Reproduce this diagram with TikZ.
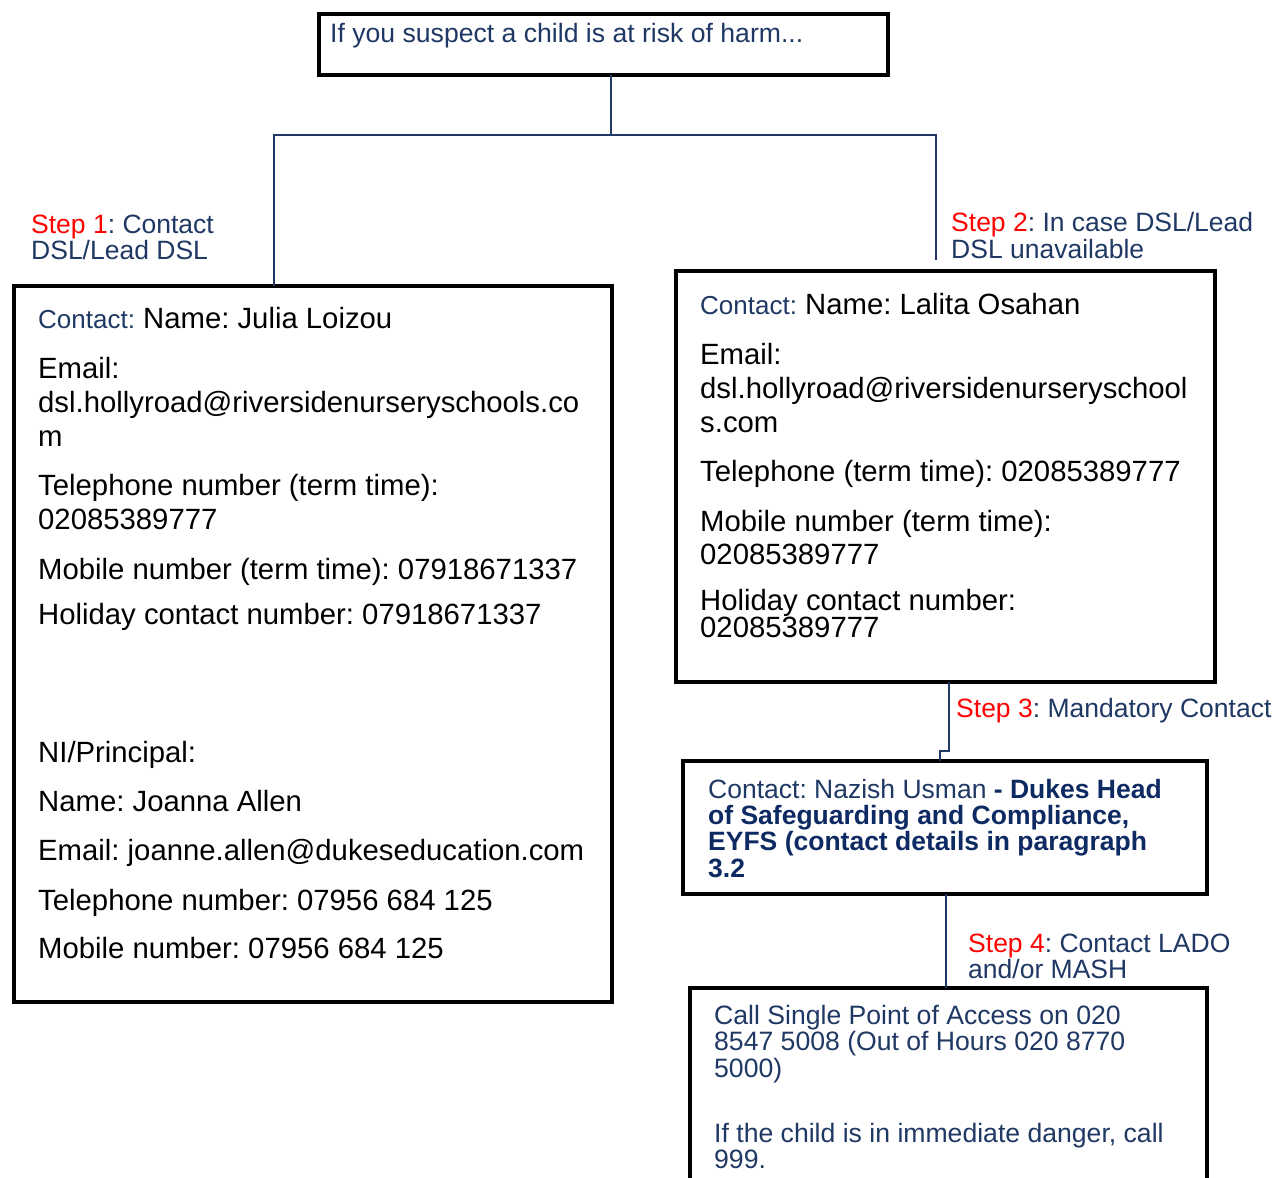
\documentclass[tikz,border=0pt]{standalone}
\usepackage{fontspec}
\setmainfont{Liberation Sans}
\frenchspacing
\definecolor{navy}{HTML}{1F3864}
\definecolor{boldnavy}{HTML}{0E2A63}
\definecolor{stepred}{HTML}{FF0000}
\newcommand{\bodyfont}{\fontsize{29.3}{34}\selectfont}
\newcommand{\labfont}{\fontsize{26.5}{26}\selectfont}
\tikzset{
  box/.style={draw=black, line width=4.5pt, fill=white, inner sep=0pt, outer sep=0pt, anchor=north west},
  conn/.style={draw=navy, line width=2.2pt},
  ln/.style={anchor=base west, inner sep=0pt, font=\bodyfont, text=black},
  lab/.style={anchor=base west, inner sep=0pt, font=\labfont, text=navy},
  navln/.style={anchor=base west, inner sep=0pt, font=\fontsize{26.6}{26.5}\selectfont, text=navy},
}
\newcommand{\steptxt}[1]{\textcolor{stepred}{#1}}
\newcommand{\ctc}{{\fontsize{26}{26}\selectfont\textcolor{navy}{Contact:}}}
\newcommand{\bnav}[1]{\textcolor{boldnavy}{\textbf{#1}}}
\begin{document}
\begin{tikzpicture}[x=1pt,y=-1pt]
\useasboundingbox (0,0) rectangle (1278,1178);
\clip (0,0) rectangle (1278,1178);
\fill[white] (0,0) rectangle (1278,1178);

% boxes
\node[box, minimum width=569pt, minimum height=61pt] (top) at (319,14) {};
\node[box, minimum width=598pt, minimum height=716pt] (julia) at (14,286) {};
\node[box, minimum width=539pt, minimum height=411pt] (lalita) at (676,271) {};
\node[box, minimum width=524pt, minimum height=133pt] (nazish) at (683,761) {};
\node[box, minimum width=517pt, minimum height=260pt] (bot) at (690,988) {};

% connector coordinates
\coordinate (j) at (611,135);
\coordinate (hl) at (274,135);
\coordinate (hr) at (936,135);
\coordinate (s2end) at (936,260);
\coordinate (k1) at (949,751);
\coordinate (k2) at (940,751);
\coordinate (m) at (946,900);

\draw[conn] (j |- top.south) -- (j);
\draw[conn] (hl |- julia.north) -- (hl) -- (hr) -- (s2end);
\draw[conn] (k1 |- lalita.south) -- (k1) -- (k2) -- (k2 |- nazish.north);
\draw[conn] (m |- nazish.south) -- (m |- bot.north);

% top text
\node[navln] (t1) at (330,42) {If you suspect a child is at risk of harm...};

% step labels
\node[lab] (s1a) at (31,233) {\steptxt{Step 1}: Contact};
\node[lab] (s1b) at (31,259) {DSL/Lead DSL};
\node[lab] (s2a) at (951,231) {\steptxt{Step 2}: In case DSL/Lead};
\node[lab] (s2b) at (951,258) {DSL unavailable};
\node[lab] (s3) at (956,717) {\steptxt{Step 3}: Mandatory Contact};
\node[lab] (s4a) at (968,952) {\steptxt{Step 4}: Contact LADO};
\node[lab] (s4b) at (968,978) {and/or MASH};

% Julia box text
\node[ln] (ja1) at (38,328) {\ctc\ Name: Julia Loizou};
\node[ln] (ja2) at (38,378) {Email:};
\node[ln] (ja3) at (38,412) {dsl.hollyroad@riversidenurseryschools.co};
\node[ln] (ja4) at (38,446) {m};
\node[ln] (ja5) at (38,495) {Telephone number (term time):};
\node[ln] (ja6) at (38,529) {02085389777};
\node[ln] (ja7) at (38,579) {Mobile number (term time): 07918671337};
\node[ln] (ja8) at (38,624) {Holiday contact number: 07918671337};
\node[ln] (ja9) at (38,762) {NI/Principal:};
\node[ln] (ja10) at (38,811) {Name: Joanna Allen};
\node[ln] (ja11) at (38,860) {Email: joanne.allen@dukeseducation.com};
\node[ln] (ja12) at (38,910) {Telephone number: 07956 684 125};
\node[ln] (ja13) at (38,958) {Mobile number: 07956 684 125};

% Lalita box text
\node[ln] (la1) at (700,314) {\ctc\ Name: Lalita Osahan};
\node[ln] (la2) at (700,364) {Email:};
\node[ln] (la3) at (700,398) {dsl.hollyroad@riversidenurseryschool};
\node[ln] (la4) at (700,432) {s.com};
\node[ln] (la5) at (700,481) {Telephone (term time): 02085389777};
\node[ln] (la6) at (700,531) {Mobile number (term time):};
\node[ln] (la7) at (700,564) {02085389777};
\node[ln] (la8) at (700,610) {Holiday contact number:};
\node[ln] (la9) at (700,637) {02085389777};

% Nazish box text
\node[lab] (na1) at (708,798) {Contact: Nazish Usman \bnav{- Dukes Head}};
\node[lab] (na2) at (708,824) {\bnav{of Safeguarding and Compliance,}};
\node[lab] (na3) at (708,850) {\bnav{EYFS (contact details in paragraph}};
\node[lab] (na4) at (708,877) {\bnav{3.2}};

% bottom box text
\node[navln] (b1) at (714,1024) {Call Single Point of Access on 020};
\node[navln] (b2) at (714,1050) {8547 5008 (Out of Hours 020 8770};
\node[navln] (b3) at (714,1077) {5000)};
\node[navln] (b4) at (714,1142) {If the child is in immediate danger, call};
\node[navln] (b5) at (714,1168) {999.};
\end{tikzpicture}
\end{document}
